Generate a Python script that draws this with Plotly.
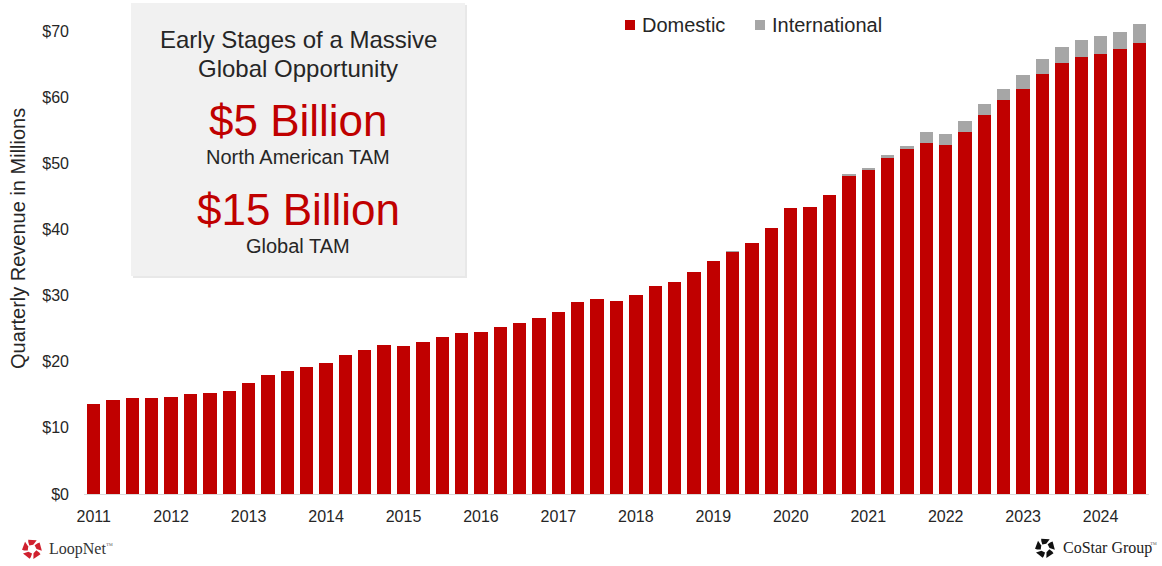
import math
import plotly.graph_objects as go

# Quarterly revenue, Q1 2011 through Q3 2024 (USD millions)
quarters = [f"{y} Q{q}" for y in range(2011, 2025) for q in range(1, 5)][:55]
domestic = [13.6, 14.2, 14.5, 14.5, 14.7, 15.1, 15.2, 15.5,
            16.8, 18.0, 18.6, 19.2,
            19.8, 21.0, 21.8, 22.5,
            22.4, 23.0, 23.7, 24.3,
            24.5, 25.3, 25.9, 26.6,
            27.5, 29.0, 29.5, 29.2,
            30.1, 31.4, 32.0, 33.5,
            35.2, 36.6, 38.0, 40.2,
            43.2, 43.4, 45.2, 48.2,
            49.1, 50.9, 52.2, 53.1,
            52.8, 54.7, 57.3, 59.5,
            61.2, 63.5, 65.2, 66.0,
            66.5, 67.3, 68.2]
international = [0, 0, 0, 0, 0, 0, 0, 0,
                 0, 0, 0, 0,
                 0, 0, 0, 0,
                 0, 0, 0, 0,
                 0, 0, 0, 0,
                 0, 0, 0, 0,
                 0, 0, 0, 0,
                 0, 0.1, 0, 0,
                 0, 0, 0, 0.1,
                 0.2, 0.3, 0.4, 1.7,
                 1.7, 1.7, 1.7, 1.8,
                 2.2, 2.2, 2.4, 2.6,
                 2.7, 2.6, 2.8]
year_labels = [str(y) for y in range(2011, 2025)]
y_ticks = [0, 10, 20, 30, 40, 50, 60, 70]
y_tick_text = [f"${v}" for v in y_ticks]

RED = "#C00000"
GREY = "#A6A6A6"
TEXT = "#262626"
FONT = "Liberation Sans, Arial, sans-serif"
SERIF = "Liberation Serif, Times New Roman, serif"

W, H = 1162, 566
ML, MR, MT, MB = 84, 13, 5, 72
PW, PH = W - ML - MR, H - MT - MB


def px(x):
    return (x - ML) / PW


def py(y):
    return (H - MB - y) / PH


x_idx = list(range(len(quarters)))

fig = go.Figure()
fig.add_trace(go.Bar(x=x_idx, y=domestic, name="Domestic", marker_color=RED,
                     marker_line_width=0, customdata=quarters,
                     hovertemplate="%{customdata}<br>Domestic: $%{y}M<extra></extra>"))
fig.add_trace(go.Bar(x=x_idx, y=international, name="International", marker_color=GREY,
                     marker_line_width=0, customdata=quarters,
                     hovertemplate="%{customdata}<br>International: $%{y}M<extra></extra>"))

shapes = []
annotations = []

# Callout box with soft shadow
shapes.append(dict(type="rect", xref="paper", yref="paper",
                   x0=px(133), x1=px(467), y0=py(278), y1=py(5),
                   fillcolor="#e8e8e8", line_width=0, layer="below"))
shapes.append(dict(type="rect", xref="paper", yref="paper",
                   x0=px(131), x1=px(465), y0=py(276), y1=py(3),
                   fillcolor="#f1f1f1", line_width=0, layer="below"))

box_lines = [
    ("Early Stages of a Massive", 40, 24, TEXT),
    ("Global Opportunity", 68, 24, TEXT),
    ("$5 Billion", 120, 44, RED),
    ("North American TAM", 157, 20, TEXT),
    ("$15 Billion", 209, 44, RED),
    ("Global TAM", 246, 20, TEXT),
]
for txt, yc, size, col in box_lines:
    annotations.append(dict(text=txt, xref="paper", yref="paper", x=px(298), y=py(yc),
                            xanchor="center", yanchor="middle", showarrow=False,
                            font=dict(family=FONT, size=size, color=col)))

# Legend entries
for label, color, sx, tx in [("Domestic", RED, 625, 640), ("International", GREY, 755, 770)]:
    shapes.append(dict(type="rect", xref="paper", yref="paper",
                       x0=px(sx), x1=px(sx + 10), y0=py(30), y1=py(20),
                       fillcolor=color, line_width=0))
    annotations.append(dict(text=label, xref="paper", yref="paper", x=px(tx), y=py(25),
                            xanchor="left", yanchor="middle", showarrow=False,
                            font=dict(family=FONT, size=20, color=TEXT)))

# Y-axis title
annotations.append(dict(text="Quarterly Revenue in Millions", xref="paper", yref="paper",
                        x=px(18), y=py(239), textangle=-90, xanchor="center",
                        yanchor="middle", showarrow=False,
                        font=dict(family=FONT, size=20, color=TEXT)))


def ring_logo(cx, cy, color):
    # five blocks arranged in a ring around an open centre
    r_in, r_out = 4.5, 10.0
    for k in range(5):
        a0 = math.radians(90 + k * 72 - 28)
        a1 = math.radians(90 + k * 72 + 28)
        pts = [(cx + r_in * math.cos(a0 + 0.2), cy - r_in * math.sin(a0 + 0.2)),
               (cx + r_out * math.cos(a0), cy - r_out * math.sin(a0)),
               (cx + r_out * math.cos(a1 - 0.1), cy - r_out * math.sin(a1 - 0.1)),
               (cx + (r_out - 2.0) * math.cos(a1), cy - (r_out - 2.0) * math.sin(a1)),
               (cx + r_in * math.cos(a1 + 0.15), cy - r_in * math.sin(a1 + 0.15))]
        path = "M " + " L ".join(f"{px(x):.5f},{py(y):.5f}" for x, y in pts) + " Z"
        shapes.append(dict(type="path", xref="paper", yref="paper", path=path,
                           fillcolor=color, line_width=0))


ring_logo(32, 549, "#D0202E")
ring_logo(1045, 548, "#111111")

logo_texts = [
    ("LoopNet", 47, 549, 16, "#333333"),
    ("CoStar Group", 1061, 548, 16, "#222222"),
]
for txt, x, y, size, col in logo_texts:
    annotations.append(dict(text=txt, xref="paper", yref="paper", x=px(x), y=py(y),
                            xanchor="left", yanchor="middle", showarrow=False,
                            font=dict(family=SERIF, size=size, color=col)))
# trademark marks
for x, y in [(104, 546), (1148, 545)]:
    annotations.append(dict(text="™", xref="paper", yref="paper", x=px(x), y=py(y),
                            xanchor="left", yanchor="middle", showarrow=False,
                            font=dict(family=SERIF, size=7, color="#666666")))

fig.update_layout(
    width=W, height=H,
    margin=dict(l=ML, r=MR, t=MT, b=MB, autoexpand=False),
    paper_bgcolor="white", plot_bgcolor="white",
    barmode="stack", bargap=0.31,
    showlegend=False,
    font=dict(family=FONT, color=TEXT),
    shapes=shapes, annotations=annotations,
    xaxis=dict(range=[-0.5, len(quarters) - 0.5], tickmode="array",
               tickvals=list(range(0, len(quarters), 4)), ticktext=year_labels,
               showgrid=False, zeroline=False, showline=True, linecolor="#d9d9d9",
               linewidth=1, ticks="", ticklabelstandoff=8,
               tickfont=dict(family=FONT, size=16, color=TEXT)),
    yaxis=dict(range=[0, PH / (463 / 70)], tickmode="array", tickvals=y_ticks,
               ticktext=y_tick_text, showgrid=False, zeroline=False, showline=False,
               ticks="", ticklabelstandoff=14,
               tickfont=dict(family=FONT, size=16, color=TEXT)),
)

fig.write_html("out.html")
